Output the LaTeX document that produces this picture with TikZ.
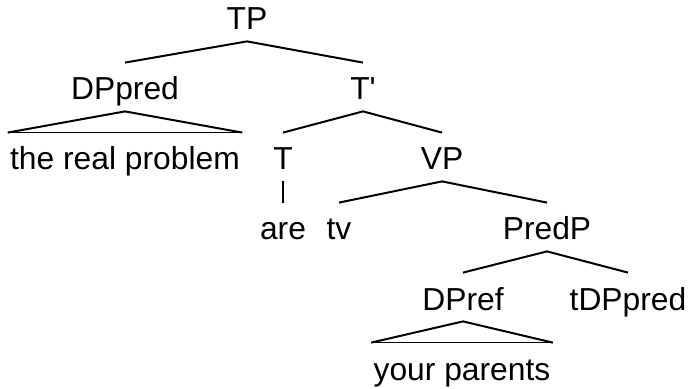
\documentclass[tikz,border=0pt]{standalone}
\usepackage{fontspec}
\setmainfont{Liberation Sans}
\begin{document}
\begin{tikzpicture}[x=0.5pt,y=-0.5pt,
    lbl/.style={anchor=base, inner xsep=1pt, inner ysep=5.5pt,
      text height=13pt, text depth=0pt, font=\fontsize{15.9}{18}\selectfont},
    branch/.style={line width=1pt},
    base/.style={line width=0.6pt}]
  \useasboundingbox (0,0) rectangle (689,389);
  \node (tp) at (247,30) [lbl] {TP};
  \node (dppred) at (125,100) [lbl] {DPpred};
  \node (tbar) at (363,100) [lbl] {T\textquotesingle};
  \node (theprob) at (125,170) [lbl] {the real problem};
  \node (t) at (283,170) [lbl] {T};
  \node (vp) at (442,170) [lbl] {VP};
  \node (are) at (283,240) [lbl] {are};
  \node (tv) at (339,240) [lbl] {tv};
  \node (predp) at (547,240) [lbl] {PredP};
  \node (dpref) at (463,310) [lbl] {DPref};
  \node (tdppred) at (628,310) [lbl] {tDPpred};
  \node (parents) at (462,380) [lbl] {your parents};
  \foreach \a/\b in {tp/dppred, tp/tbar, tbar/t, tbar/vp, t/are,
                     vp/tv, vp/predp, predp/dpref, predp/tdppred}
    \draw[branch] (\a.south) to (\b.north);
  % triangles
  \draw[branch] (theprob.north west) to (dppred.south) to (theprob.north east);
  \draw[base] (theprob.north west) to (theprob.north east);
  \draw[branch] (parents.north west) to (dpref.south) to (parents.north east);
  \draw[base] (parents.north west) to (parents.north east);
\end{tikzpicture}
\end{document}
